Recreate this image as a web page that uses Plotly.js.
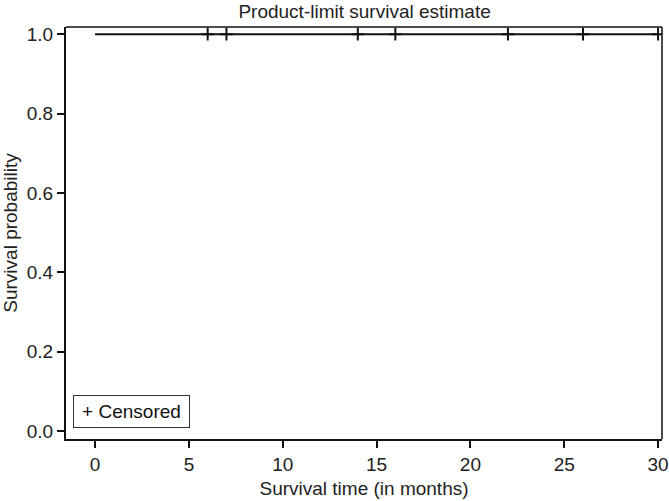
<!DOCTYPE html>
<html>
<head>
<meta charset="utf-8">
<script src="https://cdn.plot.ly/plotly-3.0.1.min.js"></script>
<style>
  body { margin: 0; background: #fff; }
  #chart { width: 669px; height: 501px; }
</style>
</head>
<body>
<div id="chart"></div>
<script>
// survival curve (step) and censored times
let times = [0, 6, 7, 14, 16, 22, 26, 30];
let survival = [1, 1, 1, 1, 1, 1, 1, 1];
let censoredTimes = [6, 7, 14, 16, 22, 26, 30];
let censoredSurvival = [1, 1, 1, 1, 1, 1, 1];
let xTicks = [0, 5, 10, 15, 20, 25, 30];
let yTicks = [0, 0.2, 0.4, 0.6, 0.8, 1.0];

let fontFam = 'Liberation Sans, Arial, sans-serif';
let fs = 19;

let curve = {
    x: times,
    y: survival,
    mode: 'lines',
    line: { color: '#111', width: 2, shape: 'hv' },
    showlegend: false,
    hoverinfo: 'skip'
};

let censored = {
    x: censoredTimes,
    y: censoredSurvival,
    mode: 'markers',
    marker: { symbol: 'cross-thin-open', size: 9, color: '#111', line: { color: '#111', width: 2 } },
    showlegend: false
};

let layout = {
    width: 669,
    height: 501,
    margin: { l: 66, r: 7, t: 27, b: 62 },
    paper_bgcolor: '#fff',
    plot_bgcolor: '#fff',
    font: { family: fontFam, size: fs, color: '#222' },
    title: {
        text: 'Product-limit survival estimate',
        x: 0.545, xref: 'container', xanchor: 'center',
        y: 0.977, yref: 'container', yanchor: 'middle',
        font: { size: fs, color: '#222' }
    },
    xaxis: {
        range: [-1.55, 30.21],
        tickvals: xTicks,
        ticks: 'outside', ticklen: 7, tickwidth: 2, tickcolor: '#111',
        showline: true, linecolor: '#111', linewidth: 2,
        showgrid: false, zeroline: false,
        title: { text: 'Survival time (in months)', standoff: 8, font: { size: fs } }
    },
    yaxis: {
        range: [-0.02, 1.018],
        tickvals: yTicks,
        tickformat: '.1f',
        ticks: 'outside', ticklen: 7, tickwidth: 2, tickcolor: '#111',
        showline: true, linecolor: '#111', linewidth: 2,
        showgrid: false, zeroline: false,
        title: { text: 'Survival probability', standoff: 4, font: { size: fs } }
    },
    shapes: [
        { type: 'line', xref: 'paper', yref: 'paper', x0: 0, x1: 1, y0: 1, y1: 1, line: { color: '#111', width: 1.5 } },
        { type: 'line', xref: 'paper', yref: 'paper', x0: 1, x1: 1, y0: 0, y1: 1, line: { color: '#111', width: 1.5 } }
    ],
    annotations: [{
        xref: 'paper', yref: 'paper',
        x: 0.0117, y: 0.0267,
        xanchor: 'left', yanchor: 'bottom',
        text: '+ Censored',
        showarrow: false,
        width: 107, height: 23, align: 'center',
        font: { size: fs, color: '#111' },
        bordercolor: '#333', borderwidth: 1, borderpad: 4,
        bgcolor: '#fff'
    }]
};

Plotly.newPlot('chart', [curve, censored], layout, { displayModeBar: false, staticPlot: true });
</script>
</body>
</html>
